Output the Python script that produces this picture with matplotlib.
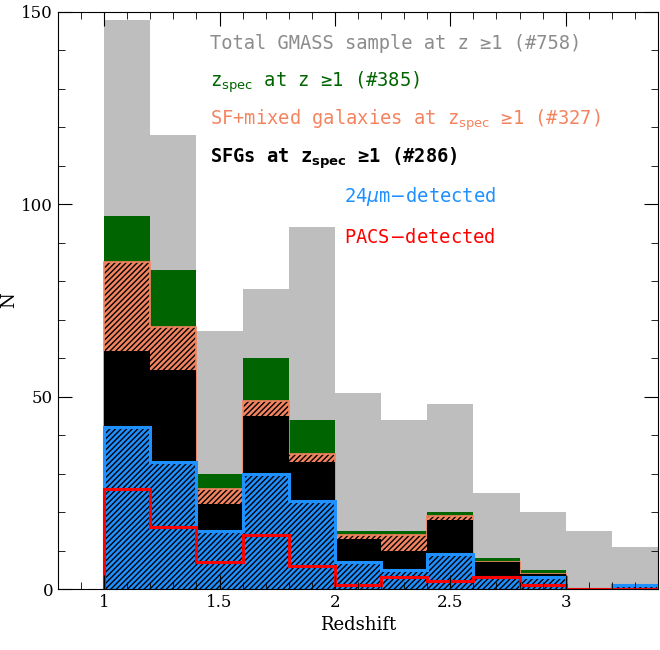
import matplotlib
matplotlib.use("Agg")
import matplotlib.pyplot as plt
import numpy as np
from matplotlib.ticker import MultipleLocator

edges = np.round(np.arange(1.0, 3.41, 0.2), 2)
total = [148, 118, 67, 78, 94, 51, 44, 48, 25, 20, 15, 11]
zspec = [97, 83, 30, 60, 44, 15, 15, 20, 8, 5, 0, 1]
sfmix = [85, 68, 26, 49, 35, 14, 14, 19, 7, 4, 0, 1]
sfg = [62, 57, 22, 45, 33, 13, 10, 18, 7, 4, 0, 1]
mips = [42, 33, 15, 30, 23, 7, 5, 9, 3, 3, 0, 1]
pacs = [26, 16, 7, 14, 6, 1, 3, 2, 3, 1, 0, 0]

plt.rcParams['font.family'] = 'DejaVu Serif'
plt.rcParams['hatch.linewidth'] = 1.0
fig = plt.figure(figsize=(6.6, 6.5), dpi=100)
ax = fig.add_axes([58/660, 61/650, 600/660, 577/650])

ax.stairs(total, edges, fill=True, color='#bebebe')
ax.stairs(zspec, edges, fill=True, color='#006400')
ax.stairs(sfmix, edges, fill=True, facecolor='#f4845f', edgecolor='black', hatch='//////', linewidth=0)
ax.stairs(sfmix, edges, color='#f4845f', linewidth=1.2)
ax.stairs(sfg, edges, fill=True, color='black')
ax.stairs(mips, edges, fill=True, facecolor='#1e90ff', edgecolor='black', hatch='//////', linewidth=0)
ax.stairs(mips, edges, color='#1e90ff', linewidth=2.2)
ax.stairs(pacs, edges, color='red', linewidth=2.2)

ax.set_xlim(0.8, 3.4)
ax.set_ylim(0, 150)
ax.xaxis.set_minor_locator(MultipleLocator(0.1))
ax.yaxis.set_minor_locator(MultipleLocator(10))
ax.tick_params(which='both', direction='in', top=True, right=True, labelsize=12)
ax.tick_params(which='major', length=10)
ax.tick_params(which='minor', length=5)
ax.set_xticks([1, 1.5, 2, 2.5, 3])
ax.set_xticklabels(['1', '1.5', '2', '2.5', '3'])
ax.set_yticks([0, 50, 100, 150])
ax.set_xlabel('Redshift', fontsize=13)
ax.set_ylabel('N', fontsize=13, labelpad=2)

fs = 13.5
mono = 'DejaVu Sans Mono'
ax.text(0.253, 0.945, 'Total GMASS sample at z \u22651 (#758)', transform=ax.transAxes, color='#8c8c8c', fontsize=fs, va='center', family=mono)
ax.text(0.253, 0.879, r'z$_{\rm spec}$ at z ' + '\u22651 (#385)', transform=ax.transAxes, color='#006400', fontsize=fs, va='center', family=mono)
ax.text(0.253, 0.813, r'SF+mixed galaxies at z$_{\rm spec}$ ' + '\u22651 (#327)', transform=ax.transAxes, color='#f4845f', fontsize=fs, va='center', family=mono)
ax.text(0.253, 0.747, r'SFGs at z$_{\bf spec}$ ' + '\u22651 (#286)', transform=ax.transAxes, color='black', fontsize=fs, va='center', fontweight='bold', family=mono)
ax.text(0.477, 0.68, r'24$\mu$m$-$detected', transform=ax.transAxes, color='#1e90ff', fontsize=fs, va='center', family=mono)
ax.text(0.477, 0.61, r'PACS$-$detected', transform=ax.transAxes, color='red', fontsize=fs, va='center', family=mono)

fig.savefig('out.png', dpi=100)
